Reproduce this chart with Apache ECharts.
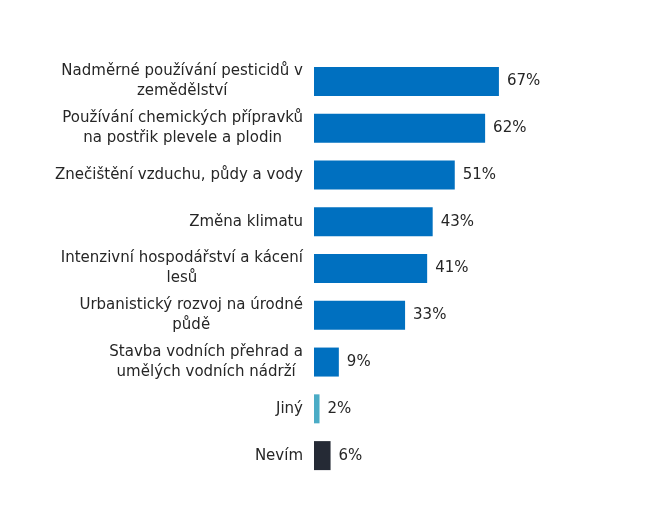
<!DOCTYPE html>
<html><head><meta charset="utf-8">
<script src="https://cdn.jsdelivr.net/npm/echarts@6/dist/echarts.min.js"></script>
<style>html,body{margin:0;padding:0;background:#fff}#c{width:650px;height:520px}</style>
</head><body><div id="c"></div>
<script>
var categories = [
  "Nadměrné používání pesticidů v\nzemědělství",
  "Používání chemických přípravků\nna postřik plevele a plodin",
  "Znečištění vzduchu, půdy a vody",
  "Změna klimatu",
  "Intenzivní hospodářství a kácení\nlesů",
  "Urbanistický rozvoj na úrodné\npůdě",
  "Stavba vodních přehrad a\numělých vodních nádrží",
  "Jiný",
  "Nevím"
];
var values = [67, 62, 51, 43, 41, 33, 9, 2, 6];
var colors = ["#0070C0","#0070C0","#0070C0","#0070C0","#0070C0","#0070C0","#0070C0","#4BACC6","#252A35"];

var chart = echarts.init(document.getElementById('c'));
chart.setOption({
  animation: false,
  textStyle: { fontFamily: 'DejaVu Sans' },
  grid: { left: 314, top: 58, width: 276, height: 421, containLabel: false },
  xAxis: { type: 'value', min: 0, max: 100, show: false },
  yAxis: {
    type: 'category', inverse: true, data: categories,
    axisLine: { show: false }, axisTick: { show: false },
    axisLabel: {
      margin: 11, color: '#262626',
      formatter: function (v) { return v.split('\n').map(function (l) { return '{c|' + l + '}'; }).join('\n'); },
      rich: { c: { align: 'center', fontSize: 15, lineHeight: 20, color: '#262626', fontFamily: 'DejaVu Sans' } }
    }
  },
  series: [{
    type: 'bar',
    data: values.map(function (v, i) { return { value: v, itemStyle: { color: colors[i] } }; }),
    barCategoryGap: '38%',
    label: { show: true, position: 'right', distance: 8, formatter: '{c}%', fontSize: 15, color: '#262626', fontFamily: 'DejaVu Sans' }
  }]
});
</script></body></html>
